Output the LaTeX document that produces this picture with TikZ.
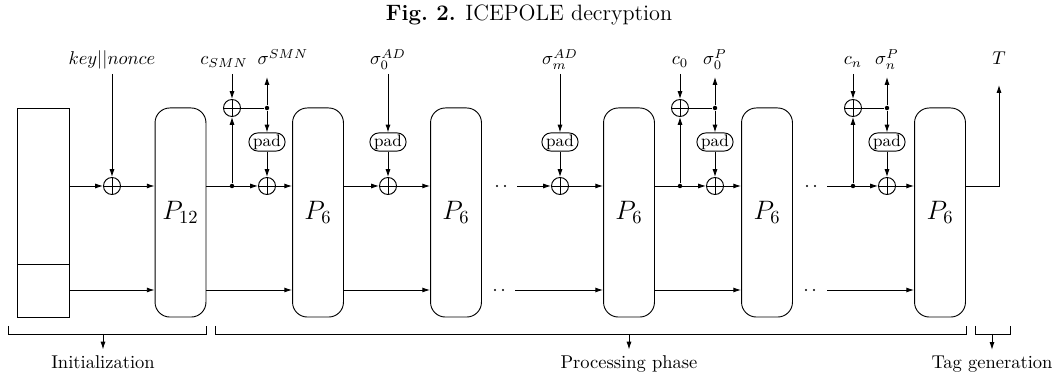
\documentclass[tikz,border=0pt]{standalone}
\usetikzlibrary{arrows.meta,calc}
\begin{document}
\begin{tikzpicture}[x=0.54pt,y=-0.54pt,line width=0.5pt,
  >={Latex[length=4.2pt,width=2.7pt]},
  perm/.style={draw,rounded corners=8pt,minimum width=27.5pt,minimum height=112.9pt,inner sep=0pt,font=\Large},
  xor/.style={circle,draw,minimum size=9.2pt,inner sep=0pt,
    path picture={\draw (path picture bounding box.north)--(path picture bounding box.south)
      (path picture bounding box.west)--(path picture bounding box.east);}},
  padbox/.style={draw,rounded corners=4.8pt,minimum width=19.5pt,minimum height=9.8pt,inner sep=0.5pt,font=\small},
  jdot/.style={circle,fill,inner sep=0pt,minimum size=2.4pt},
  gap/.style={circle,fill,inner sep=0pt,minimum size=1.1pt},
  lbl/.style={anchor=base,inner sep=0pt},
  brk/.style={line width=0.5pt}]
\path[use as bounding box] (0,0) rectangle (1058,374);
\node[font=\large] (title) at (529,15) {\textbf{Fig.~2.} ICEPOLE decryption};

% state
\node[draw,anchor=north west,minimum width=28.1pt,minimum height=112.9pt,inner sep=0pt] (state) at (17,108) {};
\draw (state.west |- 0,264) -- (state.east |- 0,264);

% permutations
\node[perm] (P12) at (180.5,212.5) {$P_{12}$};
\node[perm] (Pa) at (318,212.5) {$P_6$};
\node[perm] (Pb) at (456,212.5) {$P_6$};
\node[perm] (Pc) at (629,212.5) {$P_6$};
\node[perm] (Pd) at (767,212.5) {$P_6$};
\node[perm] (Pe) at (940,212.5) {$P_6$};

% xors, pads, dots
\node[xor] (x0) at (112,186) {};
\node[xor] (xA) at (267,186) {};
\node[xor] (cA) at (232,108) {};
\node[jdot] (dA1) at (232,186) {};
\node[jdot] (dA2) at (267,108) {};
\node[padbox] (pA) at (267,142) {pad};
\node[xor] (xB) at (388,186) {};
\node[padbox] (pB) at (388,142) {pad};
\node[xor] (xC) at (560,186) {};
\node[padbox] (pC) at (560,142) {pad};
\node[xor] (xD) at (715,186) {};
\node[xor] (cD) at (680,108) {};
\node[jdot] (dD1) at (680,186) {};
\node[jdot] (dD2) at (715,108) {};
\node[padbox] (pD) at (715,142) {pad};
\node[xor] (xE) at (887,186) {};
\node[xor] (cE) at (853,108) {};
\node[jdot] (dE1) at (853,186) {};
\node[jdot] (dE2) at (887,108) {};
\node[padbox] (pE) at (887,142) {pad};

% labels
\node[lbl] (lk) at (112,65) {$key||nonce$};
\node[lbl] (lcA) at (224,65) {$c_{SMN}$};
\node[lbl] (lsA) at (283,65) {$\sigma^{SMN}$};
\node[lbl] (lsB) at (388,65) {$\sigma_0^{AD}$};
\node[lbl] (lsC) at (560,65) {$\sigma_m^{AD}$};
\node[lbl] (lcD) at (680,65) {$c_0$};
\node[lbl] (lsD) at (715,65) {$\sigma_0^{P}$};
\node[lbl] (lcE) at (853,65) {$c_n$};
\node[lbl] (lsE) at (887,65) {$\sigma_n^{P}$};
\node[lbl] (lT) at (999,65) {$T$};

% gap dots
\node[gap] (g1) at (497,186) {};
\node[gap] (g2) at (505,186) {};
\coordinate (s1) at (517,186);
\node[gap] (g3) at (495,290) {};
\node[gap] (g4) at (503,290) {};
\coordinate (s2) at (515,290);
\node[gap] (g5) at (807,186) {};
\node[gap] (g6) at (815,186) {};
\coordinate (s3) at (827,186);
\node[gap] (g7) at (806,290) {};
\node[gap] (g8) at (814,290) {};
\coordinate (s4) at (827,290);

% lower row
\draw[->] (state.east |- 0,290) -- (P12.west |- 0,290);
\draw[->] (P12.east |- 0,290) -- (Pa.west |- 0,290);
\draw[->] (Pa.east |- 0,290) -- (Pb.west |- 0,290);
\draw[->] (s2) -- (Pc.west |- s2);
\draw[->] (Pc.east |- 0,290) -- (Pd.west |- 0,290);
\draw[->] (s4) -- (Pe.west |- s4);

% upper row
\draw[->] (state.east |- x0) -- (x0);
\draw[->] (x0) -- (P12.west |- x0);
\draw[->] (P12.east |- xA) -- (xA);
\draw[->] (xA) -- (Pa.west |- xA);
\draw[->] (Pa.east |- xB) -- (xB);
\draw[->] (xB) -- (Pb.west |- xB);
\draw[->] (s1) -- (xC);
\draw[->] (xC) -- (Pc.west |- xC);
\draw[->] (Pc.east |- xD) -- (xD);
\draw[->] (xD) -- (Pd.west |- xD);
\draw[->] (s3) -- (xE);
\draw[->] (xE) -- (Pe.west |- xE);
\coordinate (tc) at (999,186);
\draw[->] (Pe.east |- tc) -- (tc) -- ($(lT.base)+(0,20)$);

% verticals
\draw[->] ($(lk.base)+(0,9)$) -- (x0);
\draw[->] ($(lsB.base -| xB)+(0,9)$) -- (pB);
\draw[->] (pB) -- (xB);
\draw[->] ($(lsC.base -| xC)+(0,9)$) -- (pC);
\draw[->] (pC) -- (xC);

\draw[->] ($(lcA.base -| cA)+(0,9)$) -- (cA);
\draw[->] (dA1) -- (cA);
\draw (cA) -- (dA2);
\draw[->] (dA2) -- ($(lsA.base -| dA2)+(0,12)$);
\draw[->] (dA2) -- (pA);
\draw[->] (pA) -- (xA);

\draw[->] ($(lcD.base -| cD)+(0,9)$) -- (cD);
\draw[->] (dD1) -- (cD);
\draw (cD) -- (dD2);
\draw[->] (dD2) -- ($(lsD.base -| dD2)+(0,12)$);
\draw[->] (dD2) -- (pD);
\draw[->] (pD) -- (xD);

\draw[->] ($(lcE.base -| cE)+(0,9)$) -- (cE);
\draw[->] (dE1) -- (cE);
\draw (cE) -- (dE2);
\draw[->] (dE2) -- ($(lsE.base -| dE2)+(0,12)$);
\draw[->] (dE2) -- (pE);
\draw[->] (pE) -- (xE);

% brackets
\draw[brk] (8,326) -- (8,334) -- (206,334) -- (206,326);
\draw[brk] (215,326) -- (215,334) -- (966,334) -- (966,326);
\draw[brk] (975,326) -- (975,334) -- (1010,334) -- (1010,326);
\coordinate (bi) at (103,334);
\coordinate (bp) at (629,334);
\coordinate (bt) at (992,334);
\node[anchor=base] (li) at (103,369) {Initialization};
\node[anchor=base] (lp) at (629,369) {Processing phase};
\node[anchor=base] (lt) at (992,369) {Tag generation};
\draw[->] (bi) -- (li);
\draw[->] (bp) -- (lp);
\draw[->] (bt) -- (lt);
\end{tikzpicture}
\end{document}
